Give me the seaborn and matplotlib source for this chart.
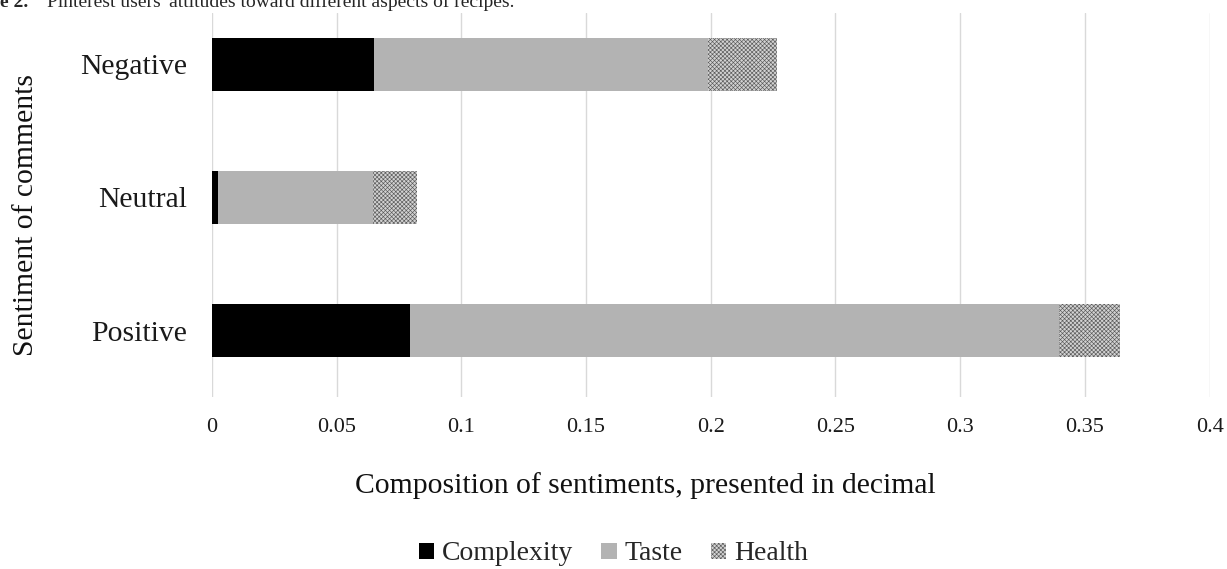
import matplotlib
matplotlib.use("Agg")
from matplotlib import pyplot as plt
from matplotlib.patches import Patch
import numpy as np
import pandas as pd
import seaborn as sns

# ------------------------------------------------------------
#     data
# ------------------------------------------------------------
sentiments = ["Negative", "Neutral", "Positive"]
complexity = [0.065, 0.0025, 0.0795]
taste      = [0.134, 0.062, 0.260]
health     = [0.0275, 0.0175, 0.0245]
xticks     = [0, 0.05, 0.1, 0.15, 0.2, 0.25, 0.3, 0.35, 0.4]
xticklabels = ["0", "0.05", "0.1", "0.15", "0.2", "0.25", "0.3", "0.35", "0.4"]

df = pd.DataFrame({"sentiment": sentiments,
                   "Complexity": complexity,
                   "Taste": taste,
                   "Health": health})
# cumulative ends, drawn back to front so the segments look stacked
df["end_complexity"] = df["Complexity"]
df["end_taste"] = df["Complexity"] + df["Taste"]
df["end_health"] = df["end_taste"] + df["Health"]

sns.set_style("white")
plt.rcParams["font.family"] = ["Liberation Serif", "DejaVu Serif"]
plt.rcParams["hatch.linewidth"] = 0.45
plt.rcParams["hatch.color"] = "#5a5a5a"

fig = plt.figure(figsize=(12.27, 5.69), dpi=100)
ax = fig.add_axes([0.1728, 0.302, 0.813, 0.675])

c_black = "#000000"
c_taste = "#b3b3b3"
c_health = "#d2d2d2"
health_hatch = "xxxxxxxx"

sns.barplot(data=df, y="sentiment", x="end_health", order=sentiments,
            color=c_health, width=0.4, orient="h", ax=ax, saturation=1)
for p in ax.patches:
    p.set_hatch(health_hatch)
    p.set_edgecolor("#5a5a5a")
    p.set_linewidth(0)
sns.barplot(data=df, y="sentiment", x="end_taste", order=sentiments,
            color=c_taste, width=0.4, orient="h", ax=ax, saturation=1,
            linewidth=0)
sns.barplot(data=df, y="sentiment", x="end_complexity", order=sentiments,
            color=c_black, width=0.4, orient="h", ax=ax, saturation=1,
            linewidth=0)

ax.set_xlim(0, 0.4)
ax.set_ylim(2.5, -0.385)
ax.set_xticks(xticks)
ax.set_xticklabels(xticklabels)
ax.xaxis.grid(True, color="#d9d9d9", linewidth=1)
ax.set_axisbelow(True)
for s in ax.spines.values():
    s.set_visible(False)
ax.tick_params(axis="both", length=0)
ax.tick_params(axis="x", labelsize=16, pad=15, labelcolor="#1a1a1a")
ax.tick_params(axis="y", labelsize=21.3, pad=18, labelcolor="#1a1a1a")
ax.set_xlabel("")
ax.set_ylabel("")

# axis titles placed like the reference (not centred on the plot area)
fig.text(645 / 1227, 1 - 486 / 569,
         "Composition of sentiments, presented in decimal",
         fontsize=21.3, ha="center", va="center", color="#111111")
fig.text(26 / 1227, 1 - 215 / 569, "Sentiment of comments",
         fontsize=21.3, ha="center", va="center", rotation=90,
         color="#111111")

# legend at the bottom
handles = [Patch(facecolor=c_black, edgecolor="none", label="Complexity"),
           Patch(facecolor=c_taste, edgecolor="none", label="Taste"),
           Patch(facecolor=c_health, edgecolor="#5a5a5a", hatch=health_hatch,
                 linewidth=0, label="Health")]
fig.legend(handles=handles, loc="center", bbox_to_anchor=(0.5, 1 - 554 / 569),
           ncol=3, frameon=False, fontsize=20, handlelength=0.55,
           handleheight=0.5, handletextpad=0.3, columnspacing=1.0,
           borderpad=0)

# caption, cut off at the top of the image
fig.text(0.0, 1 - 7 / 569, "e 2.", fontsize=14, fontweight="bold",
         va="baseline", ha="left")
fig.text(47 / 1227, 1 - 7 / 569,
         "Pinterest users' attitudes toward different aspects of recipes.",
         fontsize=14, va="baseline", ha="left")

plt.savefig("out.png", dpi=100)
